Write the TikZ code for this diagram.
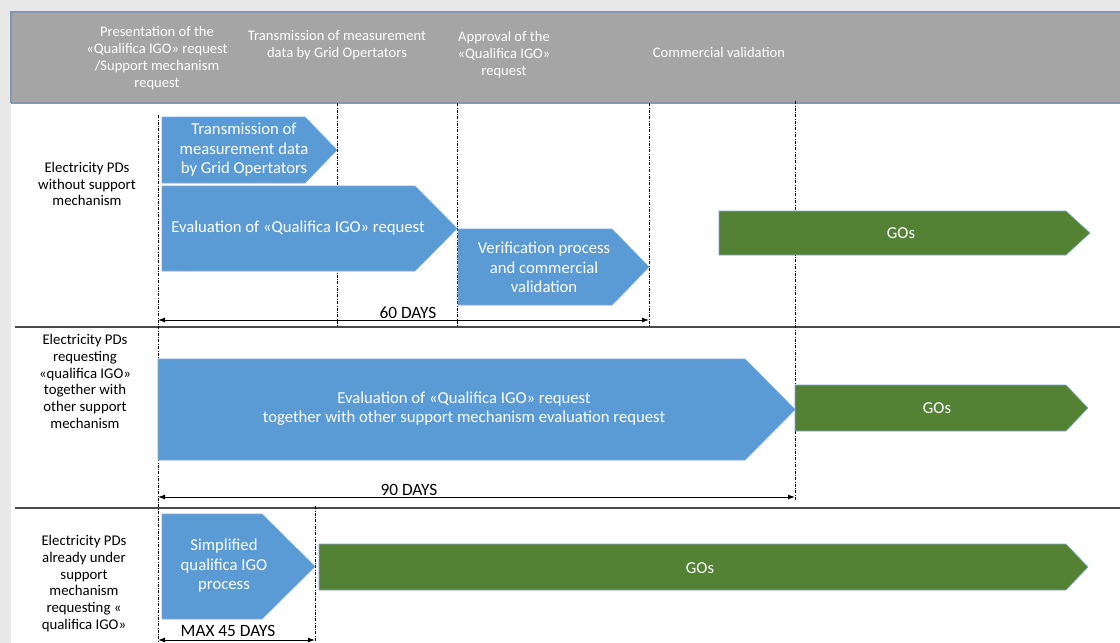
\documentclass[tikz,border=0pt]{standalone}
\usepackage{fontspec}
\setmainfont{Carlito}
\usetikzlibrary{arrows.meta,positioning,calc}
\definecolor{phaseblue}{HTML}{5B9BD5}
\definecolor{gogreen}{HTML}{548235}
\definecolor{headgray}{HTML}{A5A5A5}
\definecolor{headrule}{HTML}{8497B0}
\definecolor{pagegray}{HTML}{E8E8E8}
\definecolor{edgeblue}{HTML}{7FA6D6}
\definecolor{sepgray}{HTML}{4A4A4A}
% phase chevron: style, left, shoulder, tip, top, bottom
\newcommand{\Phase}[6]{%
  \filldraw[#1] (#2,#5) -- (#3,#5) -- (#4,{(#5+#6)/2}) -- (#3,#6) -- (#2,#6) -- cycle;}
\tikzset{
  ph/.style={fill=phaseblue, draw=edgeblue, line width=0.6pt},
  gos/.style={fill=gogreen, draw=edgeblue, line width=0.6pt},
  ptxt/.style={text=white, align=center, font=\fontsize{16.7}{19.5}\selectfont},
  htxt/.style={text=white, align=center, font=\fontsize{14.6}{17}\selectfont},
  rtxt/.style={align=center, font=\fontsize{14.8}{16.8}\selectfont},
  dtxt/.style={font=\fontsize{17.3}{19}\selectfont},
  guide/.style={line width=0.6pt, dash pattern=on 3pt off 1.5pt on 0.6pt off 1.5pt},
  rowsep/.style={sepgray, line width=1.2pt},
  span/.style={{Latex[length=7pt,width=5pt]}-{Latex[length=7pt,width=5pt]}, line width=0.9pt},
}
\begin{document}
\begin{tikzpicture}[x=1pt,y=-1pt]
  \useasboundingbox (0,0) rectangle (1120,643);
  % page and header band
  \fill[pagegray] (0,0) rectangle (1120,643);
  \fill[white] (11,103) rectangle (1120,643);
  \fill[headgray] (11,12) rectangle (1120,103);
  \draw[headrule, line width=1.5pt] (11,103) -- (11,12) -- (1120,12);
  \draw[headrule, line width=1.5pt] (11,103) -- (1120,103);
  % row separators
  \draw[rowsep] (15,327) -- (1120,327);
  \draw[rowsep] (15,508) -- (1120,508);
  % time guides
  \draw[guide] (158,115) -- (158,643);
  \foreach \gx in {337,457,649}
    \draw[guide] (\gx,103) -- (\gx,326);
  \draw[guide] (795,101) -- (795,500);
  \draw[guide] (315,506) -- (315,643);

  % header
  \node[htxt] (hpres) at (157,58.5){Presentation of the\\«Qualifica IGO» request\\/Support mechanism\\request};
  \node[htxt] (htrans) at (337,45.5){Transmission of measurement\\data by Grid Opertators};
  \node[htxt] (happr) at (504,55){Approval of the\\«Qualifica IGO»\\request};
  \node[htxt] (hcomm) at (719,52){Commercial validation};

  % row 1
  \node[rtxt] (r1) at (87,184){Electricity PDs\\without support\\mechanism};
  \Phase{ph}{162}{305}{337}{117}{183}
  \Phase{ph}{162}{415}{457}{186}{271}
  \Phase{ph}{458}{612}{649}{229}{305}
  \Phase{gos}{719}{1066}{1090}{211}{255}
  \node[ptxt] (trans) at (244,150){Transmission of\\measurement data\\by Grid Opertators};
  \node[ptxt] (eval1) at (298,228){Evaluation of «Qualifica IGO» request};
  \node[ptxt] (verif) at (544,267.5){Verification process\\and commercial\\validation};
  \node[ptxt] (gos1) at (901,233){GOs};
  \coordinate (a60) at (158,320);
  \coordinate (b60) at (649,320);
  \draw[span] (a60) -- (b60);
  \node[dtxt] (d60) at (408,313){60 DAYS};

  % row 2
  \node[rtxt] (r2) at (85,381.5){Electricity PDs\\requesting\\«qualifica IGO»\\together with\\other support\\mechanism};
  \Phase{ph}{158}{745}{795}{359}{460}
  \Phase{gos}{795}{1066}{1088}{385}{431}
  \node[ptxt] (eval2) at (464,408.5){Evaluation of «Qualifica IGO» request\\together with other support mechanism evaluation request};
  \node[ptxt] (gos2) at (937,408){GOs};
  \coordinate (a90) at (158,497);
  \coordinate (b90) at (795,497);
  \draw[span] (a90) -- (b90);
  \node[dtxt] (d90) at (409,490){90 DAYS};

  % row 3
  \node[rtxt] (r3) at (84,583.5){Electricity PDs\\already under\\support\\mechanism\\requesting «\\qualifica IGO»};
  \Phase{ph}{162}{262}{315}{514}{619}
  \Phase{gos}{319}{1066}{1088}{544}{590}
  \node[ptxt] (simpl) at (224,566){Simplified\\qualifica IGO\\process};
  \node[ptxt] (gos3) at (700,568){GOs};
  \coordinate (a45) at (158,640);
  \coordinate (b45) at (315,640);
  \draw[span] (a45) -- (b45);
  \node[dtxt] (d45) at (228,631){MAX 45 DAYS};
\end{tikzpicture}
\end{document}
